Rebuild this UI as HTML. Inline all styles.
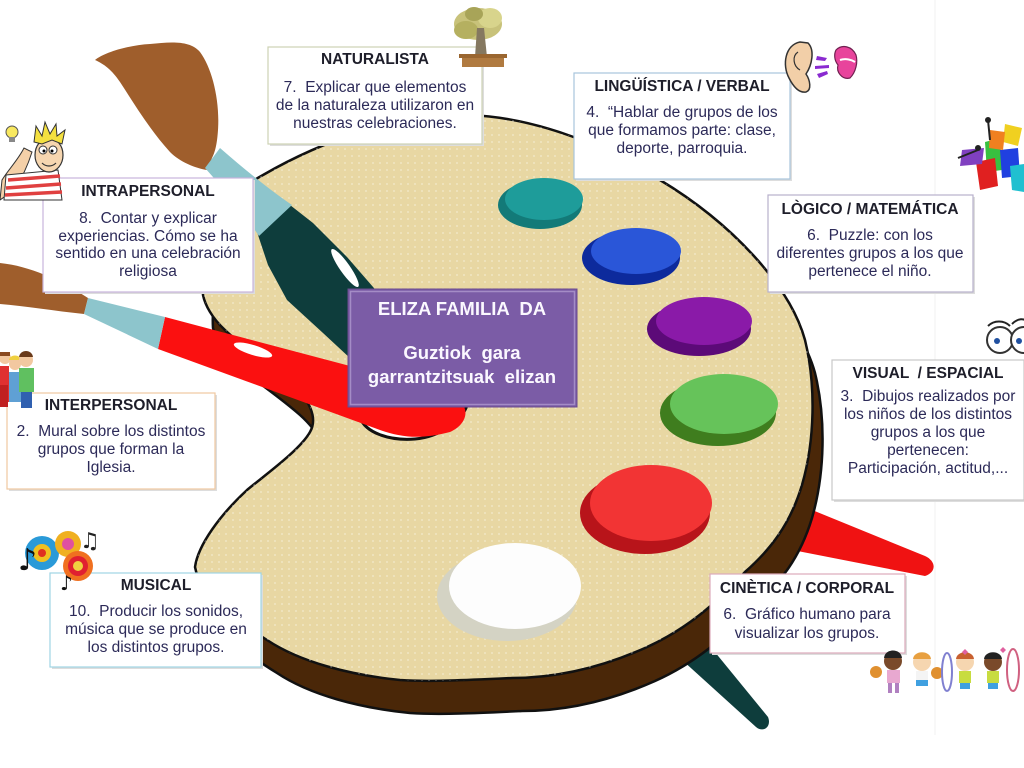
<!DOCTYPE html>
<html><head><meta charset="utf-8"><style>
html,body{margin:0;padding:0;background:#fff;}
svg{display:block;}
text{font-family:"Liberation Sans",Arial,sans-serif;white-space:pre;}
.t{font-size:15.5px;font-weight:bold;fill:#1e1e2a;text-anchor:middle;}
.b{font-size:15.5px;fill:#2c2a58;text-anchor:middle;}
.p{font-size:18.5px;font-weight:bold;fill:#fbf8ff;text-anchor:middle;}
</style></head><body>
<svg width="1024" height="768" viewBox="0 0 1024 768" xmlns="http://www.w3.org/2000/svg" xml:space="preserve">
<defs>
<pattern id="dots" width="7" height="7" patternUnits="userSpaceOnUse">
<circle cx="2" cy="2" r="0.9" fill="#fff" opacity="0.45"/>
</pattern>
</defs>
<rect width="1024" height="768" fill="#fff"/>
<line x1="935" y1="0" x2="935" y2="735" stroke="#f1f1f1" stroke-width="1"/>

<!-- brush tails behind palette -->
<path d="M795,503 L925,556 C936,561 937,572 925,576 L772,546 Z" fill="#f01212"/>
<path d="M660,640 L692,624 L768,717 C772,727 763,733 756,727 Z" fill="#0e3d3c"/>

<!-- palette -->
<g id="pal">
<path transform="translate(10,33)" d="M203,295 C200,245 225,195 263,175 C320,142 400,112 470,115 C540,118 610,148 660,180 C730,222 790,285 805,340 C816,385 815,440 802,485 C790,525 770,550 745,572 C715,605 685,630 645,648 C600,668 555,678 512,678 C470,680 430,682 400,680 C350,675 300,662 267,640 C235,620 200,595 195,567 C198,545 220,515 247,490 C265,475 300,450 310,432 C318,418 310,400 290,382 C265,360 240,345 225,330 C212,318 205,305 203,295 Z" fill="#4a2708" stroke="#111" stroke-width="2.5"/>
<path d="M203,295 C200,245 225,195 263,175 C320,142 400,112 470,115 C540,118 610,148 660,180 C730,222 790,285 805,340 C816,385 815,440 802,485 C790,525 770,550 745,572 C715,605 685,630 645,648 C600,668 555,678 512,678 C470,680 430,682 400,680 C350,675 300,662 267,640 C235,620 200,595 195,567 C198,545 220,515 247,490 C265,475 300,450 310,432 C318,418 310,400 290,382 C265,360 240,345 225,330 C212,318 205,305 203,295 Z" fill="#e8d7a3" stroke="#111" stroke-width="2.5"/>
<path d="M203,295 C200,245 225,195 263,175 C320,142 400,112 470,115 C540,118 610,148 660,180 C730,222 790,285 805,340 C816,385 815,440 802,485 C790,525 770,550 745,572 C715,605 685,630 645,648 C600,668 555,678 512,678 C470,680 430,682 400,680 C350,675 300,662 267,640 C235,620 200,595 195,567 C198,545 220,515 247,490 C265,475 300,450 310,432 C318,418 310,400 290,382 C265,360 240,345 225,330 C212,318 205,305 203,295 Z" fill="url(#dots)"/>
</g>

<!-- thumb hole -->
<path d="M360,417 C365,433 390,441 415,439 C440,437 460,421 466,408 C472,390 442,370 412,370 C382,372 355,395 360,417 Z" fill="#fff" stroke="#111" stroke-width="3"/>

<!-- paint blobs -->
<ellipse cx="540" cy="205" rx="42" ry="24" fill="#137a78"/>
<ellipse cx="544" cy="199" rx="39" ry="21" fill="#1e9c9a"/>
<ellipse cx="631" cy="258" rx="49" ry="27" fill="#0d2a9c"/>
<ellipse cx="636" cy="251" rx="45" ry="23" fill="#2a56d8"/>
<ellipse cx="699" cy="329" rx="52" ry="27" fill="#5c0a78"/>
<ellipse cx="704" cy="321" rx="48" ry="24" fill="#8a1aa8"/>
<ellipse cx="718" cy="413" rx="58" ry="33" fill="#3f7d1e"/>
<ellipse cx="724" cy="404" rx="54" ry="30" fill="#66c35a"/>
<ellipse cx="645" cy="513" rx="65" ry="41" fill="#b8141a"/>
<ellipse cx="651" cy="503" rx="61" ry="38" fill="#f23434"/>
<ellipse cx="507" cy="596" rx="70" ry="45" fill="#d4d3c4"/>
<ellipse cx="515" cy="586" rx="66" ry="43" fill="#fdfdfd"/>

<!-- top brush -->
<path d="M95,60 C105,52 130,45 150,44 C170,42 190,40 200,52 C212,68 220,100 218,130 C217,145 215,152 212,158 L207,170 C195,168 180,162 170,152 C150,130 135,105 120,82 C112,70 104,64 95,60 Z" fill="#9f5e2c"/>
<path d="M257,232 L268,265 L287,300 L323,333 L365,372 L420,420 L470,400 L430,350 L380,295 L347,257 L313,223 L290,205 Z" fill="#0e3d3c"/>
<path d="M205,168 L220,148 C245,170 270,190 292,205 L259,236 C245,215 225,190 205,168 Z" fill="#8dc5cc"/>
<ellipse cx="345" cy="268" rx="23" ry="5" transform="rotate(55 345 268)" fill="#fff"/>

<!-- red brush -->
<path d="M0,263 C30,266 60,280 88,298 L84,314 C55,311 25,306 0,304 Z" fill="#9f5e2c"/>
<path d="M165,317 L350,366 C400,380 440,392 460,402 C470,410 466,425 450,432 C420,440 400,437 380,430 L158,349 Z" fill="#fb1010"/>
<path d="M88,298 L165,317 L158,349 L84,314 Z" fill="#8dc5cc"/>
<ellipse cx="253" cy="350" rx="20" ry="5" transform="rotate(17 253 350)" fill="#fff"/>

<!-- center box -->
<rect x="348" y="289" width="229" height="118" fill="#7b5ca6" stroke="#6a4a8e" stroke-width="1"/>
<rect x="350.5" y="291.5" width="224" height="113" fill="none" stroke="#a48cc6" stroke-width="1.5"/>
<text class="p" x="462" y="315">ELIZA FAMILIA  DA</text>
<text class="p" x="462" y="359">Guztiok  gara</text>
<text class="p" x="462" y="383">garrantzitsuak  elizan</text>

<!-- text boxes -->
<g>
<rect x="270" y="49" width="214" height="97" fill="#ddd"/>
<rect x="268" y="47" width="214" height="97" fill="#fff" stroke="#cdd2b4" stroke-width="1.2"/>
<text class="t" x="375" y="64">NATURALISTA</text>
<text class="b" x="375" y="92">7.  Explicar que elementos</text>
<text class="b" x="375" y="110">de la naturaleza utilizaron en</text>
<text class="b" x="375" y="128">nuestras celebraciones.</text>

<rect x="576" y="75" width="216" height="106" fill="#ddd"/>
<rect x="574" y="73" width="216" height="106" fill="#fff" stroke="#a8c4dc" stroke-width="1.2"/>
<text class="t" x="682" y="91">LINGÜÍSTICA / VERBAL</text>
<text class="b" x="682" y="117">4.  “Hablar de grupos de los</text>
<text class="b" x="682" y="135">que formamos parte: clase,</text>
<text class="b" x="682" y="153">deporte, parroquia.</text>

<rect x="770" y="197" width="205" height="97" fill="#ddd"/>
<rect x="768" y="195" width="205" height="97" fill="#fff" stroke="#b8b0cc" stroke-width="1.2"/>
<text class="t" x="870" y="214">LÒGICO / MATEMÁTICA</text>
<text class="b" x="870" y="240">6.  Puzzle: con los</text>
<text class="b" x="870" y="258">diferentes grupos a los que</text>
<text class="b" x="870" y="276">pertenece el niño.</text>

<rect x="834" y="362" width="192" height="140" fill="#ddd"/>
<rect x="832" y="360" width="192" height="140" fill="#fff" stroke="#c8c8c8" stroke-width="1.2"/>
<text class="t" x="928" y="378">VISUAL  / ESPACIAL</text>
<text class="b" x="928" y="401">3.  Dibujos realizados por</text>
<text class="b" x="928" y="419">los niños de los distintos</text>
<text class="b" x="928" y="437">grupos a los que</text>
<text class="b" x="928" y="455">pertenecen:</text>
<text class="b" x="928" y="473">Participación, actitud,...</text>

<rect x="712" y="576" width="195" height="79" fill="#ddd"/>
<rect x="710" y="574" width="195" height="79" fill="#fff" stroke="#dcaabb" stroke-width="1.2"/>
<text class="t" x="807" y="593">CINÈTICA / CORPORAL</text>
<text class="b" x="807" y="619">6.  Gráfico humano para</text>
<text class="b" x="807" y="638">visualizar los grupos.</text>

<rect x="52" y="575" width="211" height="94" fill="#ddd"/>
<rect x="50" y="573" width="211" height="94" fill="#fff" stroke="#9fd4e4" stroke-width="1.2"/>
<text class="t" x="156" y="590">MUSICAL</text>
<text class="b" x="156" y="616">10.  Producir los sonidos,</text>
<text class="b" x="156" y="634">música que se produce en</text>
<text class="b" x="156" y="652">los distintos grupos.</text>

<rect x="9" y="395" width="208" height="96" fill="#ddd"/>
<rect x="7" y="393" width="208" height="96" fill="#fff" stroke="#f0c8a0" stroke-width="1.2"/>
<text class="t" x="111" y="410">INTERPERSONAL</text>
<text class="b" x="111" y="436">2.  Mural sobre los distintos</text>
<text class="b" x="111" y="454">grupos que forman la</text>
<text class="b" x="111" y="472">Iglesia.</text>

<rect x="45" y="180" width="210" height="114" fill="#ddd"/>
<rect x="43" y="178" width="210" height="114" fill="#fff" stroke="#c8b4dc" stroke-width="1.2"/>
<text class="t" x="148" y="196">INTRAPERSONAL</text>
<text class="b" x="148" y="223">8.  Contar y explicar</text>
<text class="b" x="148" y="241">experiencias. Cómo se ha</text>
<text class="b" x="148" y="258">sentido en una celebración</text>
<text class="b" x="148" y="276">religiosa</text>
</g>

<!-- bonsai -->
<g>
<ellipse cx="478" cy="24" rx="24" ry="16" fill="#c8c27a"/>
<ellipse cx="466" cy="30" rx="12" ry="9" fill="#b5b060"/>
<ellipse cx="490" cy="18" rx="12" ry="10" fill="#d8d48c"/>
<ellipse cx="474" cy="14" rx="9" ry="7" fill="#a8a458"/>
<path d="M477,28 L484,28 L487,57 L475,57 Z" fill="#857860"/>
<rect x="462" y="56" width="42" height="11" fill="#b07a40"/>
<rect x="459" y="54" width="48" height="4" fill="#9a6630"/>
</g>

<!-- ear & lips -->
<g>
<path d="M800,42 C785,45 782,65 789,78 C794,88 800,93 806,92 C812,90 810,80 806,74 C812,65 815,50 808,43 Z" fill="#f2cfa8" stroke="#333" stroke-width="1.5"/>
<path d="M798,52 C792,56 793,66 800,70" fill="none" stroke="#333" stroke-width="1.2"/>
<path d="M817,56 L827,58 L825,61 L816,60 Z" fill="#8a2ad0"/>
<path d="M815,66 L829,65 L829,68 L815,69 Z" fill="#8a2ad0"/>
<path d="M817,74 L827,71 L828,74 L819,78 Z" fill="#8a2ad0"/>
<path d="M836,50 C842,44 852,46 856,55 C858,62 856,72 850,78 C842,80 836,72 838,65 C834,60 834,54 836,50 Z" fill="#e8449c" stroke="#702050" stroke-width="1.2"/>
<path d="M840,60 C846,58 852,60 855,62" fill="none" stroke="#fff" stroke-width="2"/>
</g>

<!-- colorful figure -->
<g>
<path d="M985,142 L1000,138 L1002,170 L987,172 Z" fill="#38c040"/>
<path d="M976,162 L995,158 L998,186 L980,190 Z" fill="#e02020"/>
<path d="M1000,150 L1018,148 L1020,176 L1002,178 Z" fill="#2040e0"/>
<path d="M1005,124 L1022,128 L1018,146 L1003,142 Z" fill="#f0d020"/>
<path d="M990,130 L1005,132 L1003,150 L989,148 Z" fill="#f08020"/>
<path d="M1010,166 L1024,164 L1024,192 L1012,190 Z" fill="#20c0d0"/>
<path d="M962,150 L984,148 L982,164 L960,166 Z" fill="#8040c0"/>
<line x1="988" y1="120" x2="990" y2="140" stroke="#222" stroke-width="2"/>
<circle cx="988" cy="120" r="3" fill="#222"/>
<line x1="958" y1="158" x2="978" y2="150" stroke="#222" stroke-width="2"/>
<circle cx="978" cy="148" r="3" fill="#222"/>
</g>

<!-- eyes -->
<g>
<path d="M988,326 C994,320 1004,320 1010,326" fill="none" stroke="#222" stroke-width="2"/>
<path d="M1012,324 C1018,318 1024,318 1028,322" fill="none" stroke="#222" stroke-width="2"/>
<circle cx="1000" cy="340" r="13" fill="#fff" stroke="#333" stroke-width="2"/>
<circle cx="1024" cy="340" r="13" fill="#fff" stroke="#333" stroke-width="2"/>
<circle cx="997" cy="341" r="3" fill="#2050a0"/>
<circle cx="1019" cy="341" r="3" fill="#2050a0"/>
</g>

<!-- thinking guy -->
<g>
<circle cx="12" cy="132" r="6" fill="#f8e860" stroke="#555" stroke-width="1"/>
<rect x="9" y="137" width="6" height="5" fill="#888"/>
<path d="M0,200 L2,180 C8,170 18,160 24,148 L32,152 C28,165 22,178 14,190 Z" fill="#f4d0a8" stroke="#333" stroke-width="1"/>
<path d="M6,175 L58,170 L62,200 L4,200 Z" fill="#fff" stroke="#333" stroke-width="1"/>
<path d="M8,180 L60,176 M6,188 L61,184 M5,195 L62,192" stroke="#e04040" stroke-width="3.5"/>
<ellipse cx="49" cy="155" rx="14" ry="17" fill="#f6d6b0" stroke="#333" stroke-width="1.2"/>
<circle cx="43" cy="150" r="4" fill="#fff" stroke="#333" stroke-width="1"/>
<circle cx="53" cy="150" r="4" fill="#fff" stroke="#333" stroke-width="1"/>
<circle cx="44" cy="151" r="1.5" fill="#000"/>
<circle cx="52" cy="151" r="1.5" fill="#000"/>
<path d="M42,163 C46,167 52,167 56,163" fill="none" stroke="#333" stroke-width="1.2"/>
<path d="M34,142 L36,126 L42,136 L45,122 L50,134 L56,124 L57,136 L65,130 L62,144 L52,140 L42,144 Z" fill="#f4e040" stroke="#333" stroke-width="1"/>
</g>

<!-- kids group -->
<g>
<rect x="0" y="366" width="9" height="36" fill="#e03030"/>
<circle cx="5" cy="358" r="6" fill="#f2c8a0"/>
<path d="M0,352 L10,352 L10,356 L0,356 Z" fill="#8a4a20"/>
<rect x="9" y="372" width="12" height="30" fill="#5fa0d4"/>
<circle cx="15" cy="364" r="6" fill="#f2c8a0"/>
<path d="M9,360 C10,354 20,354 21,360 Z" fill="#f0d040"/>
<rect x="19" y="368" width="15" height="24" fill="#60c060"/>
<rect x="21" y="392" width="11" height="16" fill="#3060b0"/>
<circle cx="26" cy="360" r="7" fill="#f2c8a0"/>
<path d="M19,357 C20,349 32,349 33,357 Z" fill="#6a3a1a"/>
<rect x="0" y="385" width="8" height="22" fill="#c02020"/>
</g>

<!-- music -->
<g>
<circle cx="42" cy="553" r="17" fill="#2a9ad8"/>
<circle cx="42" cy="553" r="9" fill="#f0c020"/>
<circle cx="42" cy="553" r="4" fill="#e03020"/>
<circle cx="68" cy="544" r="13" fill="#f0b020"/>
<circle cx="68" cy="544" r="6" fill="#e050a0"/>
<circle cx="78" cy="566" r="15" fill="#f07020"/>
<circle cx="78" cy="566" r="10" fill="#e02030"/>
<circle cx="78" cy="566" r="5" fill="#f0d040"/>
<text x="18" y="570" style="font-family:'DejaVu Sans',sans-serif;font-size:30px;fill:#111;">♪</text>
<text x="80" y="548" style="font-family:'DejaVu Sans',sans-serif;font-size:22px;fill:#222;">♫</text>
<text x="60" y="590" style="font-family:'DejaVu Sans',sans-serif;font-size:20px;fill:#111;">♪</text>
</g>

<!-- children -->
<g>
<circle cx="876" cy="672" r="6" fill="#e09030"/>
<circle cx="893" cy="661" r="9" fill="#7a4a2a"/>
<path d="M884,658 C885,648 901,648 902,658 Z" fill="#222"/>
<rect x="887" y="670" width="13" height="13" fill="#e8a8d0"/>
<rect x="888" y="683" width="4" height="10" fill="#b080c0"/>
<rect x="895" y="683" width="4" height="10" fill="#b080c0"/>
<circle cx="922" cy="662" r="9" fill="#f6d6b0"/>
<path d="M913,659 C914,650 930,650 931,659 Z" fill="#e8a040"/>
<rect x="916" y="671" width="12" height="12" fill="#f4f4f4"/>
<rect x="916" y="680" width="12" height="6" fill="#40a0e0"/>
<circle cx="937" cy="673" r="6" fill="#e09030"/>
<ellipse cx="947" cy="672" rx="5" ry="19" fill="none" stroke="#8080d0" stroke-width="2"/>
<circle cx="965" cy="662" r="9" fill="#f6d6b0"/>
<path d="M956,659 C957,650 973,650 974,659 Z" fill="#c86030"/>
<rect x="959" y="671" width="12" height="12" fill="#c8dc40"/>
<rect x="960" y="683" width="10" height="6" fill="#40a0e0"/>
<circle cx="993" cy="662" r="9" fill="#7a4a2a"/>
<path d="M984,659 C985,650 1001,650 1002,659 Z" fill="#222"/>
<rect x="987" y="671" width="12" height="12" fill="#c8dc40"/>
<rect x="988" y="683" width="10" height="6" fill="#40a0e0"/>
<ellipse cx="1013" cy="670" rx="6" ry="21" fill="none" stroke="#d06080" stroke-width="2"/>
<path d="M962,652 l3,-3 l3,3 l-3,3 Z M1000,650 l3,-3 l3,3 l-3,3 Z" fill="#e060a0"/>
</g>
</svg>
</body></html>
